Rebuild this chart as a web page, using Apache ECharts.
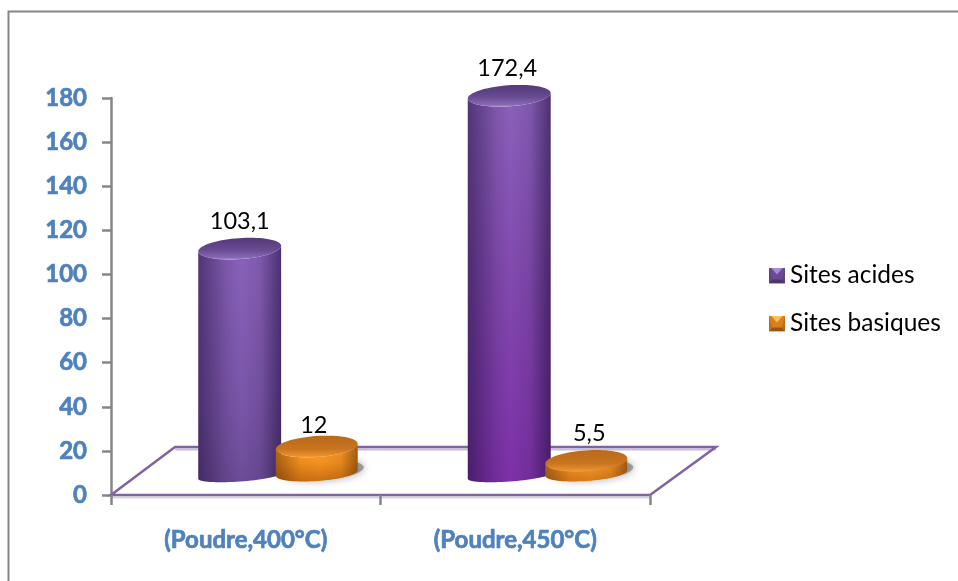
<!DOCTYPE html>
<html>
<head>
<meta charset="utf-8">
<style>html,body{margin:0;padding:0;background:#fff}#chart{width:958px;height:581px}</style>
<script src="https://cdn.jsdelivr.net/npm/echarts@6/dist/echarts.min.js"></script>
</head>
<body>
<div id="chart"></div>
<script>
// Surface sites per powder calcination temperature
const categories = ['(Poudre,400°C)', '(Poudre,450°C)'];
const sitesAcides = [103.1, 172.4];
const sitesBasiques = [12, 5.5];
const yTicks = { min: 0, max: 180, interval: 20 };

// Pseudo-3D parameters for the floor and the cylinders
const FLOOR_DX = 65, FLOOR_DY = 48, TILT = -4 * Math.PI / 180;
const G = echarts.graphic;
const hGrad = stops => new G.LinearGradient(0, 0, 1, 0, stops.map(([offset, color]) => ({ offset, color })));
const vGrad = stops => new G.LinearGradient(0, 0, 0, 1, stops.map(([offset, color]) => ({ offset, color })));

function ellipsePoint(cx, cy, rx, ry, t) {
  const x = rx * Math.cos(t), y = ry * Math.sin(t);
  return [cx + x * Math.cos(TILT) - y * Math.sin(TILT), cy + x * Math.sin(TILT) + y * Math.cos(TILT)];
}
function ellipsePoly(cx, cy, rx, ry) {
  const pts = [];
  for (let i = 0; i < 72; i++) pts.push(ellipsePoint(cx, cy, rx, ry, i / 72 * 2 * Math.PI));
  return pts;
}
function wallPoly(cx, yTop, yBase, rx, ry, baseRy) {
  const pts = [];
  // lower rim of the base, left to right, then straight up to the top rim
  for (let i = 0; i <= 36; i++) pts.push(ellipsePoint(cx, yBase, rx, baseRy, Math.PI - i / 36 * Math.PI));
  for (let i = 0; i <= 36; i++) pts.push(ellipsePoint(cx, yTop, rx, ry, i / 36 * Math.PI));
  return pts;
}
const fmt = v => String(v).replace('.', ',');

function cylinderRenderer(look) {
  return function (params, api) {
    const i = params.dataIndex;
    const base = api.coord([api.value(0), 0]);
    const top = api.coord([api.value(0), api.value(1)]);
    const band = api.size([1, 0])[0];
    const cx = base[0] + FLOOR_DX / 2 + look.dodge * band;
    const yBase = base[1] + look.dy;
    const yTop = top[1] + look.dy;
    const rx = look.rx, ry = look.ry;
    const wall = wallPoly(cx, yTop, yBase, rx, ry, look.baseRy);
    const children = [];
    if (look.shadow) {
      // soft contact shadow falling to the right of the disc
      children.push({
        type: 'polygon',
        shape: { points: ellipsePoly(cx + 6, yBase - 3, rx, look.baseRy + 2) },
        style: { fill: 'rgba(110,110,110,0.6)', shadowBlur: 9, shadowColor: 'rgba(90,90,90,0.9)' }
      });
    }
    children.push({
      type: 'polygon',
      shape: { points: wall },
      style: { fill: vGrad(look.wall[i]) }
    }, {
      type: 'polygon',
      shape: { points: wall },
      style: { fill: hGrad(look.sheen) }
    }, {
      type: 'polygon',
      shape: { points: ellipsePoly(cx, yTop, rx, ry) },
      style: { fill: vGrad(look.cap) }
    }, {
      type: 'text',
      style: {
        text: fmt(api.value(1)),
        x: cx + look.labelDx[i],
        y: yTop + look.labelDy[i],
        align: 'center',
        verticalAlign: 'middle',
        fill: '#000',
        font: '23.5px Lato'
      }
    });
    return { type: 'group', children };
  };
}

const purple = {
  dodge: -0.143, dy: -19, rx: 41.5, ry: 10.5, baseRy: 5.5,
  labelDx: [0, -2], labelDy: [-27, -27],
  wall: [
    [[0, '#8a62bb'], [0.7, '#7a55a8'], [1, '#6c4c96']],
    [[0, '#8a62bb'], [0.5, '#8248ae'], [1, '#7d30a8']]
  ],
  sheen: [[0, 'rgba(25,10,50,0.5)'], [0.35, 'rgba(25,10,50,0.1)'], [0.52, 'rgba(25,10,50,0)'], [0.75, 'rgba(25,10,50,0.1)'], [1, 'rgba(25,10,50,0.55)']],
  cap: [[0, '#54397a'], [0.55, '#674a90'], [0.9, '#8767b4'], [1, '#a488cf']]
};
const orange = {
  dodge: 0.143, dy: -22, rx: 41, ry: 10.5, baseRy: 8, shadow: true,
  labelDx: [-3, 3], labelDy: [-21.5, -27.5],
  wall: [
    [[0, '#ffa02c'], [0.5, '#f5911f'], [1, '#c96f12']],
    [[0, '#ffa02c'], [1, '#d87a16']]
  ],
  sheen: [[0, 'rgba(70,30,0,0.45)'], [0.3, 'rgba(70,30,0,0.05)'], [0.55, 'rgba(70,30,0,0)'], [0.8, 'rgba(70,30,0,0.1)'], [1, 'rgba(70,30,0,0.5)']],
  cap: [[0, '#b96a1a'], [0.6, '#c8741f'], [0.9, '#e78d2a'], [1, '#f7a23c']]
};

// Bevelled square used as the legend marker
function bevelIcon(light, mid, dark, edge) {
  const svg = '<svg xmlns="http://www.w3.org/2000/svg" width="16" height="16">' +
    '<rect width="16" height="16" fill="' + mid + '"/>' +
    '<polygon points="2,0 14,0 8,7" fill="' + light + '"/>' +
    '<polygon points="0,16 16,16 13,12 3,12" fill="' + dark + '"/>' +
    '<polygon points="0,0 3,12 0,16" fill="' + edge + '"/>' +
    '<polygon points="16,0 13,12 16,16" fill="' + edge + '"/></svg>';
  return 'image://data:image/svg+xml;charset=utf-8,' + encodeURIComponent(svg);
}

const axisFont = {
  color: '#4f81bd', fontFamily: 'Lato', fontWeight: 'bold', fontSize: 24,
  textBorderColor: '#4f81bd', textBorderWidth: 0.7
};

const chart = echarts.init(document.getElementById('chart'), null, { renderer: 'canvas' });
chart.setOption({
  animation: false,
  backgroundColor: '#fff',
  graphic: [{
    type: 'rect', z: 0,
    shape: { x: 8.5, y: 11.5, width: 1000, height: 620 },
    style: { fill: 'none', stroke: '#868686', lineWidth: 2 }
  }],
  grid: { left: 111, top: 98, width: 539, height: 397 },
  xAxis: {
    type: 'category',
    data: categories,
    axisLine: { show: true, lineStyle: { color: '#868686', width: 0 } },
    axisTick: { show: true, length: 10, lineStyle: { color: '#868686', width: 2.5 } },
    axisLabel: Object.assign({ margin: 33 }, axisFont),
    z: 3
  },
  yAxis: {
    type: 'value',
    min: yTicks.min, max: yTicks.max, interval: yTicks.interval,
    splitLine: { show: false },
    axisLine: { show: true, lineStyle: { color: '#868686', width: 2.5 } },
    axisTick: { show: true, length: 9, lineStyle: { color: '#868686', width: 2.5 } },
    axisLabel: Object.assign({ margin: 24, padding: [9, 0, 0, 0] }, axisFont)
  },
  legend: {
    orient: 'vertical',
    left: 769, top: 263,
    padding: 0,
    itemGap: 23,
    itemWidth: 16, itemHeight: 16,
    textStyle: { fontFamily: 'Lato', fontSize: 24.5, color: '#000' },
    data: [
      { name: 'Sites acides', icon: bevelIcon('#a98ad6', '#6b4a95', '#4d3570', '#5f4287') },
      { name: 'Sites basiques', icon: bevelIcon('#ffc055', '#d97f1e', '#96561a', '#bd6c1a') }
    ]
  },
  series: [
    {
      // Floor plane, sized from the plotting area
      type: 'custom',
      silent: true,
      coordinateSystem: 'cartesian2d',
      data: [[0, 0]],
      clip: false,
      z: 1,
      renderItem(params, api) {
        const r = params.coordSys;
        const b = r.y + r.height, l = r.x, w = r.width;
        const pts = [[l, b], [l + 64, b - FLOOR_DY], [l + w + 66, b - FLOOR_DY], [l + w, b]];
        return {
          type: 'group',
          children: [{
            type: 'polyline',
            shape: { points: [[l, b + 2.5], [l + w, b + 2.5]] },
            style: { fill: 'none', stroke: '#d9d2e3', lineWidth: 2 }
          }, {
            type: 'polyline',
            shape: { points: [[l + 64, b - FLOOR_DY + 2.5], [l + w + 66, b - FLOOR_DY + 2.5]] },
            style: { fill: 'none', stroke: '#c9bcd9', lineWidth: 2 }
          }, {
            type: 'polygon',
            shape: { points: pts },
            style: { fill: 'none', stroke: '#8064a2', lineWidth: 2.5 }
          }]
        };
      }
    },
    {
      name: 'Sites acides',
      type: 'custom',
      coordinateSystem: 'cartesian2d',
      data: sitesAcides.map((v, i) => [i, v]),
      encode: { x: 0, y: 1 },
      clip: false,
      z: 4,
      renderItem: cylinderRenderer(purple)
    },
    {
      name: 'Sites basiques',
      type: 'custom',
      coordinateSystem: 'cartesian2d',
      data: sitesBasiques.map((v, i) => [i, v]),
      encode: { x: 0, y: 1 },
      clip: false,
      z: 5,
      renderItem: cylinderRenderer(orange)
    }
  ]
});
</script>
</body>
</html>
